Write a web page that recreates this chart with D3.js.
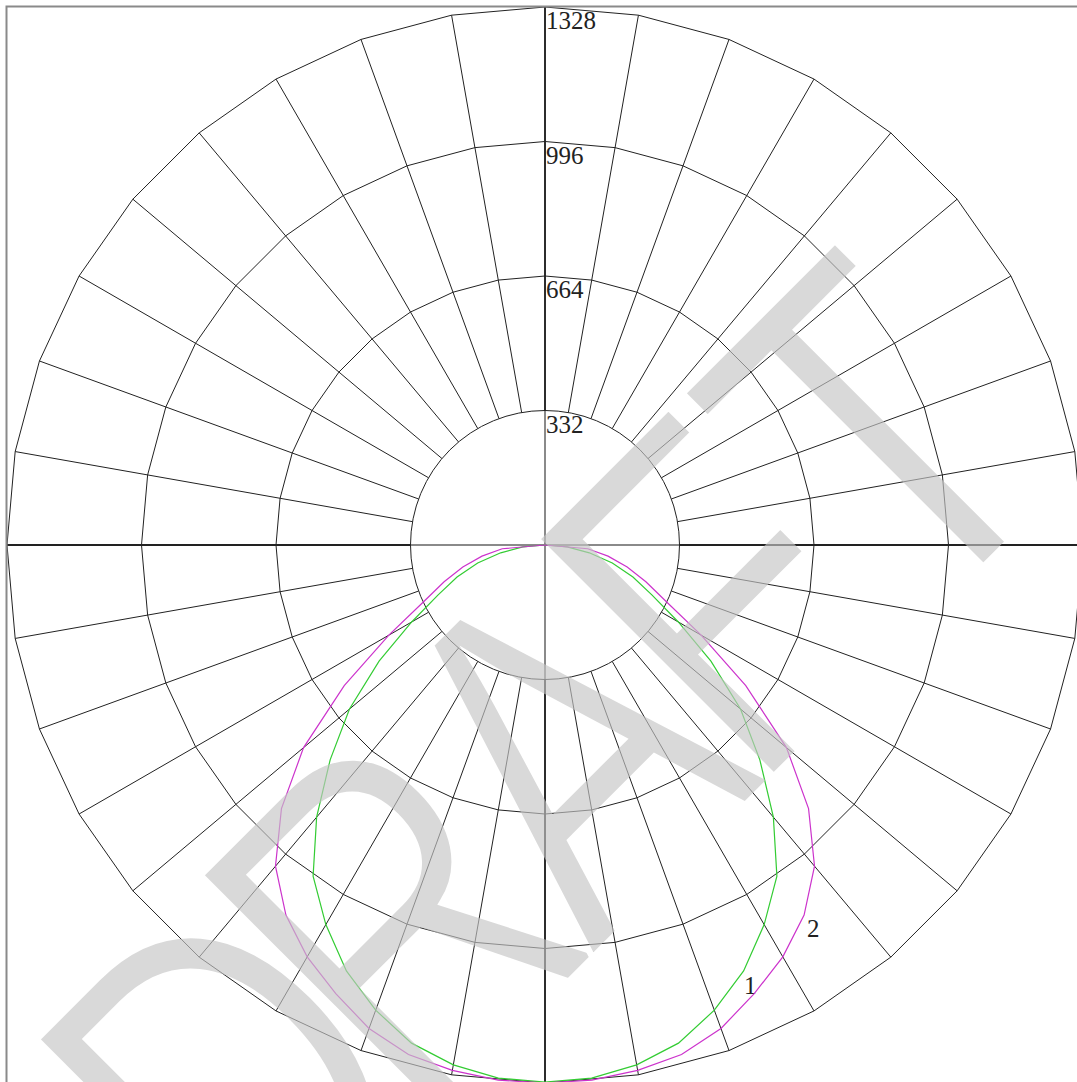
<!DOCTYPE html>
<html>
<head>
<meta charset="utf-8">
<script src="https://cdn.jsdelivr.net/npm/d3@7"></script>
<style>
  html, body { margin: 0; padding: 0; background: #fff; }
  svg { display: block; }
</style>
</head>
<body>
<div id="chart"></div>
<script>
// ---- data ----
const angles = [0, 5, 10, 15, 20, 25, 30, 35, 40, 45, 50, 55, 60, 65, 70, 75, 80, 85, 90];
const curve1 = [1326, 1321, 1303, 1273, 1222, 1160, 1082, 998, 877, 750, 630, 500, 380, 291, 231, 172, 111, 55, 0];
const curve2 = [1328, 1326, 1317, 1302, 1270, 1222, 1174, 1115, 1035, 920, 778, 605, 445, 330, 265, 210, 158, 106, 0];
const seriesNames = ["1", "2"];
const seriesColors = ["#33cc33", "#cc33cc"];
const seriesLabelAngles = [25, 35];
const ringValues = [332, 664, 996, 1328];
const ringLabels = ["332", "664", "996", "1328"];
const maxValue = 1328;
const watermarkText = "DRAFT";

// ---- layout ----
const W = 1077, H = 1082;
const cx = 545, cy = 545, R = 538;

const svg = d3.select("#chart").append("svg")
  .attr("width", W).attr("height", H);

const r = d3.scaleLinear().domain([0, maxValue]).range([0, R]);
const spokeAngles = d3.range(0, 360, 10);
const toRad = d => d * Math.PI / 180;

const g = svg.append("g").attr("transform", `translate(${cx},${cy})`);

// frame
svg.append("rect")
  .attr("x", 6.5).attr("y", 6.5).attr("width", 1077).attr("height", 1077)
  .attr("fill", "none").attr("stroke", "#8a8a8a").attr("stroke-width", 2);

// axes (full length, grey)
g.append("line").attr("x1", -R).attr("x2", R).attr("y1", 0).attr("y2", 0)
  .attr("stroke", "#8a8a8a").attr("stroke-width", 2);
g.append("line").attr("x1", 0).attr("x2", 0).attr("y1", -R).attr("y2", R)
  .attr("stroke", "#8a8a8a").attr("stroke-width", 2);

// inner ring: circle
g.append("circle").attr("r", r(ringValues[0]))
  .attr("fill", "none").attr("stroke", "#222").attr("stroke-width", 1);

// outer rings: polygons through spoke angles
const ringLine = d3.lineRadial().curve(d3.curveLinearClosed)
  .angle(d => toRad(d[0])).radius(d => d[1]);
ringValues.slice(1).forEach(v => {
  g.append("path")
    .attr("d", ringLine(spokeAngles.map(a => [a, r(v)])))
    .attr("fill", "none").attr("stroke", "#222").attr("stroke-width", 1);
});

// spokes
g.selectAll("line.spoke").data(spokeAngles).enter().append("line")
  .attr("class", "spoke")
  .attr("x1", a => r(ringValues[0]) * Math.sin(toRad(a)))
  .attr("y1", a => -r(ringValues[0]) * Math.cos(toRad(a)))
  .attr("x2", a => R * Math.sin(toRad(a)))
  .attr("y2", a => -R * Math.cos(toRad(a)))
  .attr("stroke", "#222")
  .attr("stroke-width", a => (a % 90 === 0 ? 1.8 : 1));

// ring labels
g.selectAll("text.ring").data(ringValues).enter().append("text")
  .attr("class", "ring")
  .attr("x", 1)
  .attr("y", v => -r(v) + 22)
  .attr("font-family", "'Liberation Serif', 'DejaVu Serif', serif")
  .attr("font-size", 25)
  .attr("fill", "#222")
  .text((v, i) => ringLabels[i]);

// curves (angle measured from nadir, mirrored both sides)
const curveLine = d3.lineRadial()
  .angle(d => Math.PI - toRad(d[0]))
  .radius(d => r(d[1]));
[curve1, curve2].forEach((vals, k) => {
  const left = angles.map((a, i) => [-a, vals[i]]).reverse();
  const right = angles.map((a, i) => [a, vals[i]]).slice(1);
  const pts = left.concat(right);
  g.append("path")
    .attr("d", curveLine(pts))
    .attr("fill", "none")
    .attr("stroke", seriesColors[k])
    .attr("stroke-width", 1.2);
  const la = seriesLabelAngles[k];
  const lv = vals[angles.indexOf(la)];
  const lr = r(lv) + 16;
  g.append("text")
    .attr("x", lr * Math.sin(toRad(la)))
    .attr("y", lr * Math.cos(toRad(la)))
    .attr("dy", "0.35em")
    .attr("text-anchor", "middle")
    .attr("font-family", "'Liberation Serif', 'DejaVu Serif', serif")
    .attr("font-size", 25)
    .attr("fill", "#222")
    .text(seriesNames[k]);
});

// watermark (thinned glyphs via mask)
const sx = 0.778, wmSize = 490, thin = 8, wmBase = 1097;
const letterU = [-740.5, -508.4, -259.1, -33, 196];
const xs = letterU.map(u => (u / sx).toFixed(1)).join(" ");
const wmTransform = `rotate(-45) scale(${sx},1)`;
const defs = svg.append("defs");
const mask = defs.append("mask").attr("id", "wmMask")
  .attr("maskUnits", "userSpaceOnUse")
  .attr("x", 0).attr("y", 0).attr("width", W).attr("height", H);
mask.append("text")
  .attr("transform", wmTransform)
  .attr("x", xs).attr("y", wmBase)
  .attr("font-family", "'Liberation Sans', Arial, sans-serif")
  .attr("font-size", wmSize)
  .attr("fill", "white")
  .attr("stroke", "black")
  .attr("stroke-width", thin)
  .text(watermarkText);
svg.append("g").attr("mask", "url(#wmMask)")
  .append("text")
  .attr("transform", wmTransform)
  .attr("x", xs).attr("y", wmBase)
  .attr("font-family", "'Liberation Sans', Arial, sans-serif")
  .attr("font-size", wmSize)
  .attr("fill", "rgb(197,197,197)")
  .attr("fill-opacity", 0.65)
  .text(watermarkText);
</script>
</body>
</html>
